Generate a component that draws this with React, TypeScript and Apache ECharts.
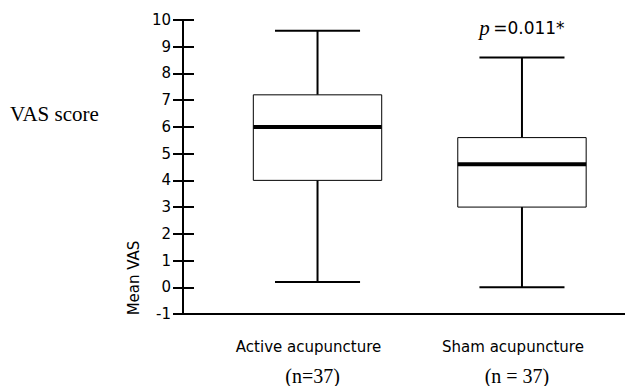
import React, { useEffect, useRef } from "react";
import * as echarts from "echarts";

const categories = ["Active acupuncture", "Sham acupuncture"];
const sampleSizes = ["(n=37)", "(n = 37)"];
const whiskerLow = [0.2, 0.0];
const quartile1 = [4.0, 3.0];
const medians = [6.0, 4.6];
const quartile3 = [7.2, 5.6];
const whiskerHigh = [9.6, 8.6];
const annotations = ["", "=0.011*"];
const yMin = -1;
const yMax = 10;
const yInterval = 1;

export default function App() {
  const ref = useRef<HTMLDivElement>(null);

  useEffect(() => {
    if (!ref.current) return;
    const chart = echarts.init(ref.current, null, { renderer: "svg" });

    const data = categories.map((_, i) => [
      i + 1,
      whiskerLow[i],
      quartile1[i],
      medians[i],
      quartile3[i],
      whiskerHigh[i],
    ]);

    const boxHalf = 0.314;
    const capHalf = 0.208;

    const renderItem = (params: any, api: any) => {
      const x = api.value(0);
      const lo = api.value(1);
      const q1 = api.value(2);
      const md = api.value(3);
      const q3 = api.value(4);
      const hi = api.value(5);
      const c = (xx: number, yy: number) => api.coord([xx, yy]);
      const pLo = c(x, lo);
      const pQ1 = c(x, q1);
      const pQ3 = c(x, q3);
      const pHi = c(x, hi);
      const bl = c(x - boxHalf, q3);
      const br = c(x + boxHalf, q1);
      const mdl = c(x - boxHalf, md);
      const mdr = c(x + boxHalf, md);
      const capL = c(x - capHalf, hi);
      const capR = c(x + capHalf, hi);
      const capLl = c(x - capHalf, lo);
      const capRl = c(x + capHalf, lo);
      const ln = { stroke: "#000", lineWidth: 2 };
      const children: any[] = [
        { type: "line", shape: { x1: pHi[0], y1: pHi[1], x2: pQ3[0], y2: pQ3[1] }, style: ln },
        { type: "line", shape: { x1: pQ1[0], y1: pQ1[1], x2: pLo[0], y2: pLo[1] }, style: ln },
        { type: "line", shape: { x1: capL[0], y1: capL[1], x2: capR[0], y2: capR[1] }, style: ln },
        { type: "line", shape: { x1: capLl[0], y1: capLl[1], x2: capRl[0], y2: capRl[1] }, style: ln },
        {
          type: "rect",
          shape: { x: bl[0], y: bl[1], width: br[0] - bl[0], height: br[1] - bl[1] },
          style: { fill: "#fff", stroke: "#000", lineWidth: 1 },
        },
        { type: "line", shape: { x1: mdl[0], y1: mdl[1], x2: mdr[0], y2: mdr[1] }, style: { stroke: "#000", lineWidth: 4 } },
      ];
      const note = annotations[params.dataIndex];
      if (note) {
        children.push({
          type: "text",
          x: pHi[0],
          y: pHi[1] - 29,
          style: {
            text: "{p|p} {v|" + note + "}",
            align: "center",
            verticalAlign: "middle",
            rich: {
              p: { fontFamily: "Liberation Serif", fontStyle: "italic", fontSize: 21, fill: "#000" },
              v: { fontFamily: "DejaVu Sans", fontSize: 17, fill: "#000" },
            },
          },
        });
      }
      return { type: "group", children };
    };

    chart.setOption({
      animation: false,
      backgroundColor: "#fff",
      grid: { left: 183, right: 0, top: 20, bottom: 71, containLabel: false },
      xAxis: {
        type: "value",
        min: 0.342,
        max: 2.504,
        axisLine: { show: true, onZero: false, lineStyle: { color: "#000", width: 2 } },
        axisTick: { show: false },
        splitLine: { show: false },
        axisLabel: {
          customValues: [1, 2],
          margin: 22,
          formatter: (v: number) => {
            const i = Math.round(v) - 1;
            return "{a|" + categories[i] + "}\n{b|" + sampleSizes[i] + "}";
          },
          rich: {
            a: { fontFamily: "DejaVu Sans", fontSize: 15, color: "#000", lineHeight: 22, padding: [0, 18, 0, 0] },
            b: { fontFamily: "Liberation Serif", fontSize: 20, color: "#000", lineHeight: 36, padding: [0, 10, 0, 0] },
          },
        },
      },
      yAxis: [
        {
          type: "value",
          min: yMin,
          max: yMax,
          interval: yInterval,
          position: "left",
          axisLine: { show: true, onZero: false, lineStyle: { color: "#000", width: 2 } },
          axisTick: { show: true, inside: false, length: 10, lineStyle: { color: "#000", width: 2 } },
          axisLabel: { margin: 12, fontFamily: "DejaVu Sans", fontSize: 15, color: "#000" },
          splitLine: { show: false },
        },
        {
          type: "value",
          min: yMin,
          max: yMax,
          interval: yInterval,
          position: "left",
          axisLine: { show: false, onZero: false },
          axisTick: { show: true, inside: true, length: 11, lineStyle: { color: "#000", width: 2 } },
          axisLabel: { show: false },
          splitLine: { show: false },
        },
      ],
      graphic: [
        {
          type: "text",
          left: 10,
          top: 103,
          style: { text: "VAS score", fontFamily: "Liberation Serif", fontSize: 21, fill: "#000" },
        },
        {
          type: "text",
          x: 134,
          y: 278,
          rotation: Math.PI / 2,
          style: {
            text: "Mean VAS",
            fontFamily: "DejaVu Sans",
            fontSize: 15,
            fill: "#000",
            align: "center",
            verticalAlign: "middle",
          },
        },
      ],
      series: [
        {
          type: "custom",
          xAxisIndex: 0,
          yAxisIndex: 0,
          renderItem,
          encode: { x: 0, y: [1, 2, 3, 4, 5] },
          data,
        },
      ],
    });

    return () => chart.dispose();
  }, []);

  return (
    <div
      ref={ref}
      style={{ position: "fixed", left: 0, top: 0, width: 625, height: 386 }}
    />
  );
}
